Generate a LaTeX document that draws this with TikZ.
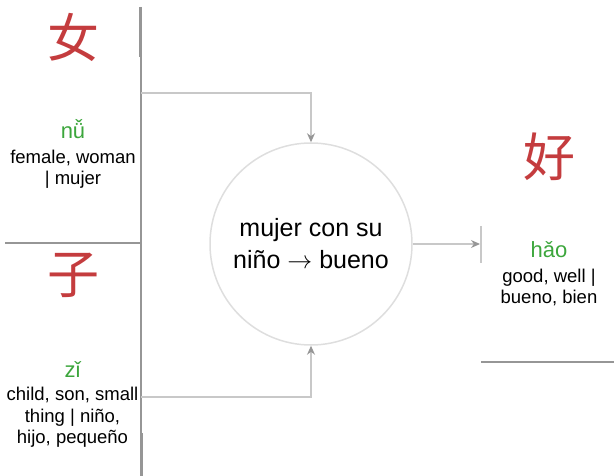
\documentclass[tikz,border=0pt]{standalone}
\usepackage{fontspec}
\setmainfont{Liberation Sans}
\newfontfamily\cjk{Noto Sans CJK SC}
\usetikzlibrary{arrows.meta,positioning}
\definecolor{hanzired}{RGB}{196,60,62}
\definecolor{pinyingreen}{RGB}{60,166,60}
\definecolor{rulegray}{RGB}{150,150,150}
\definecolor{linkgray}{RGB}{200,200,200}
\definecolor{ringgray}{RGB}{222,222,222}
\tikzset{
  hanzi/.style  = {font=\cjk\fontsize{52}{52}\selectfont, text=hanzired, inner sep=0pt},
  pinyin/.style = {font=\fontsize{22}{24}\selectfont, text=pinyingreen,
                   inner sep=0pt, anchor=base},
  gloss/.style  = {font=\fontsize{18.5}{21.5}\selectfont, align=center, inner sep=0pt},
  ring/.style   = {circle, draw=ringgray, line width=1.5pt, minimum size=#1,
                   inner sep=0pt, align=center, font=\fontsize{25}{32}\selectfont},
  ring/.default = 202pt,
  link/.style   = {draw=linkgray, line width=1.3pt,
                   -{Stealth[length=9pt, width=8pt, color=rulegray]}},
  rule/.style   = {draw=rulegray, line width=1.3pt}
}

\begin{document}
\begin{tikzpicture}[x=1pt, y=-1pt]
	\useasboundingbox (0,0) rectangle (614,476);
	\def \colA{73}   % left column
	\def \colB{549}  % right column
	\def \gap{10pt}

	% Frame
	\draw[rule] (141,7) -- (141,476);
	\draw[rule, line width=2pt] (140,7) -- (140,57);
	\draw[rule, line width=2pt] (141.5,433) -- (141.5,476);
	\draw[rule] (5,243) -- (140,243);
	\draw[rule, line width=2pt] (481,362) -- (614,362);
	\draw[draw=linkgray, line width=1.3pt] (481,226) -- (481,263);

	% Woman
	\node[hanzi] (nvChar) at (\colA,37) {女};
	\node[pinyin] (nvPin) at (\colA,139) {nǚ};
	\node[gloss, below=\gap of nvPin] (nvGloss) {female, woman\\| mujer};

	% Child
	\node[hanzi] (ziChar) at (\colA,275) {子};
	\node[pinyin] (ziPin) at (72.5,377) {zǐ};
	\node[gloss, below=\gap of ziPin] (ziGloss) {child, son, small\\thing | niño,\\hijo, pequeño};

	% Good
	\node[hanzi] (haoChar) at (\colB,157) {好};
	\node[pinyin] (haoPin) at (\colB,258) {hǎo};
	\node[gloss, below=\gap of haoPin] (haoGloss) {good, well |\\bueno, bien};

	% Compound
	\node[ring] (mix) at (311,244) {mujer con su\\niño $\rightarrow$ bueno};

	% Links
	\coordinate (nvOut) at (141,93);
	\coordinate (ziOut) at (141,397);
	\coordinate (haoIn) at (480,244);
	\draw[link] (nvOut) -| (mix.north);
	\draw[link] (ziOut) -| (mix.south);
	\draw[link] (mix.east) -- (haoIn);
\end{tikzpicture}
\end{document}
